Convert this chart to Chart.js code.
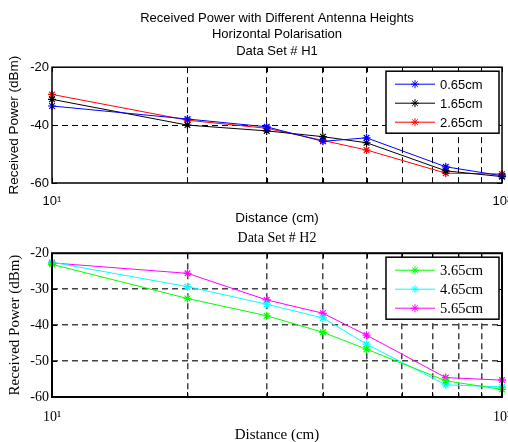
<!DOCTYPE html>
<html>
<head>
<meta charset="utf-8">
<script src="https://cdn.jsdelivr.net/npm/chart.js@4.4.1/dist/chart.umd.min.js"></script>
<style>
  html, body { margin: 0; padding: 0; background: #fff; }
  #wrap { position: relative; width: 508px; height: 442px; }
  #wrap canvas { position: absolute; left: 0; top: 0; }
</style>
</head>
<body>
<div id="wrap">
  <canvas id="h1" width="508" height="442"></canvas>
  <canvas id="h2" width="508" height="442"></canvas>
</div>
<script>
// distances (cm), log axis
var distance = [10, 20, 30, 40, 50, 75, 100];
var xTicks = [10, 20, 30, 40, 50, 60, 70, 80, 90, 100];

// data set H1
var h1Labels = ["0.65cm", "1.65cm", "2.65cm"];
var h1_065 = [-33.4, -37.9, -40.6, -45.6, -44.4, -54.4, -57.5];
var h1_165 = [-31.1, -40.0, -42.0, -44.0, -46.1, -55.8, -57.8];
var h1_265 = [-29.4, -38.3, -41.1, -45.3, -48.6, -56.6, -56.9];
var h1YTicks = [-60, -40, -20];

// data set H2
var h2Labels = ["3.65cm", "4.65cm", "5.65cm"];
var h2_365 = [-23.1, -32.6, -37.4, -42.0, -46.7, -55.5, -57.9];
var h2_465 = [-22.5, -29.3, -34.2, -38.0, -45.3, -56.6, -57.2];
var h2_565 = [-22.7, -25.6, -33.0, -36.7, -42.8, -54.6, -55.3];
var h2YTicks = [-60, -50, -40, -30, -20];

function xy(vals) {
  return vals.map(function (v, i) { return { x: distance[i], y: v }; });
}

function series(label, vals, color) {
  return {
    label: label,
    data: xy(vals),
    borderColor: color,
    backgroundColor: color,
    borderWidth: 1,
    pointStyle: "star",
    pointRadius: 4,
    pointBorderWidth: 1.2,
    pointBorderColor: color,
    tension: 0,
    clip: false
  };
}

// box, inward ticks and a legend in the MATLAB way
var matlabBox = {
  id: "matlabBox",
  afterDraw: function (chart, args, opts) {
    var ctx = chart.ctx, a = chart.chartArea;
    var xs = chart.scales.x, ys = chart.scales.y;
    ctx.save();
    ctx.strokeStyle = "#000";
    ctx.lineWidth = opts.boxWidth;
    ctx.strokeRect(a.left, a.top, a.right - a.left, a.bottom - a.top);
    ctx.lineWidth = 1;
    ctx.beginPath();
    xTicks.forEach(function (t) {
      var px = Math.round(xs.getPixelForValue(t)) + 0.5;
      ctx.moveTo(px, a.bottom); ctx.lineTo(px, a.bottom - 5);
      ctx.moveTo(px, a.top); ctx.lineTo(px, a.top + 5);
    });
    opts.yTicks.forEach(function (t) {
      var py = Math.round(ys.getPixelForValue(t)) + 0.5;
      ctx.moveTo(a.left, py); ctx.lineTo(a.left + 5, py);
      ctx.moveTo(a.right, py); ctx.lineTo(a.right - 5, py);
    });
    ctx.stroke();

    // legend
    var sets = chart.data.datasets;
    var bx = a.right - 116, by = a.top + 4, bw = 113, bh = 62;
    ctx.fillStyle = "#fff";
    ctx.fillRect(bx, by, bw, bh);
    ctx.lineWidth = 1.5;
    ctx.strokeRect(bx, by, bw, bh);
    ctx.font = opts.legendFont;
    ctx.textBaseline = "middle";
    sets.forEach(function (ds, i) {
      var ry = by + 13 + i * 19;
      ctx.strokeStyle = ds.borderColor;
      ctx.lineWidth = 1;
      ctx.beginPath();
      ctx.moveTo(bx + 9, ry); ctx.lineTo(bx + 49, ry);
      ctx.stroke();
      Chart.helpers.drawPoint(ctx, { pointStyle: "star", radius: 4, borderWidth: 1.2 }, bx + 29, ry);
      ctx.fillStyle = "#000";
      ctx.fillText(ds.label, bx + 54, ry + 1);
    });
    ctx.restore();
  }
};

function makeChart(id, cfg) {
  var f = cfg.family;
  var gridColor = function (c) {
    return (c.tick && (c.tick.value === cfg.yMin || c.tick.value === cfg.yMax)) ? "rgba(0,0,0,0)" : cfg.gridColor;
  };
  var xGridColor = function (c) {
    return (c.tick && (c.tick.value === 10 || c.tick.value === 100)) ? "rgba(0,0,0,0)" : cfg.gridColor;
  };
  return new Chart(document.getElementById(id), {
    type: "line",
    data: { datasets: cfg.datasets },
    plugins: [matlabBox],
    options: {
      responsive: false,
      animation: false,
      layout: { padding: { top: cfg.padTop, bottom: cfg.padBottom, left: 0, right: 6 } },
      plugins: {
        legend: { display: false },
        tooltip: { enabled: false },
        title: {
          display: true,
          text: cfg.title,
          fullSize: false,
          color: "#000",
          font: { family: f, size: cfg.titleSize, weight: "normal", lineHeight: 1.3 },
          padding: cfg.titlePad
        },
        matlabBox: { yTicks: cfg.yTicks, boxWidth: cfg.boxWidth, legendFont: cfg.legendFont }
      },
      scales: {
        x: {
          type: "logarithmic",
          min: 10,
          max: 100,
          afterBuildTicks: function (s) { s.ticks = xTicks.map(function (v) { return { value: v }; }); },
          afterFit: function (s) { s.height = cfg.xAxisH; s.paddingLeft = 0; s.paddingRight = 0; },
          border: { display: false, dash: [6, 4] },
          grid: { color: xGridColor, lineWidth: cfg.gridWidth, drawTicks: false },
          ticks: {
            autoSkip: false,
            maxRotation: 0,
            padding: cfg.xTickPad,
            color: "#000",
            font: { family: f, size: cfg.tickSize },
            callback: function (v) { return v === 10 ? "10\u00b9" : (v === 100 ? "10\u00b2" : ""); }
          },
          title: {
            display: true,
            text: "Distance (cm)",
            color: "#000",
            font: { family: f, size: cfg.axisTitleSize },
            padding: { top: 0, bottom: cfg.xTitlePadBottom }
          }
        },
        y: {
          min: cfg.yMin,
          max: cfg.yMax,
          afterBuildTicks: function (s) { s.ticks = cfg.yTicks.map(function (v) { return { value: v }; }); },
          afterFit: function (s) { s.width = 52; s.paddingTop = 0; s.paddingBottom = 0; },
          border: { display: false, dash: [6, 4] },
          grid: { color: gridColor, lineWidth: cfg.gridWidth, drawTicks: false },
          ticks: {
            padding: 3,
            color: "#000",
            font: { family: f, size: cfg.tickSize }
          },
          title: {
            display: true,
            text: "Received Power (dBm)",
            color: "#000",
            font: { family: f, size: cfg.axisTitleSize },
            padding: { top: 6, bottom: 0 }
          }
        }
      }
    }
  });
}

makeChart("h1", {
  family: "Arial, 'Liberation Sans', sans-serif",
  title: ["Received Power with Different Antenna Heights", "Horizontal Polarisation", "Data Set # H1"],
  titleSize: 13,
  titlePad: { top: 9.5, bottom: 7 },
  padTop: 0,
  padBottom: 217,
  xAxisH: 42,
  xTickPad: 11,
  xTitlePadBottom: -1,
  tickSize: 13,
  axisTitleSize: 13.5,
  legendFont: "13px Arial, 'Liberation Sans', sans-serif",
  gridColor: "#000",
  gridWidth: 1,
  boxWidth: 1.5,
  yMin: -60, yMax: -20,
  yTicks: h1YTicks,
  datasets: [
    series(h1Labels[0], h1_065, "#0000ff"),
    series(h1Labels[1], h1_165, "#000000"),
    series(h1Labels[2], h1_265, "#ff0000")
  ]
});

makeChart("h2", {
  family: "'Times New Roman', 'Liberation Serif', serif",
  title: ["Data Set # H2"],
  titleSize: 14,
  titlePad: { top: 9, bottom: 6 },
  padTop: 220,
  padBottom: 0,
  xAxisH: 45,
  xTickPad: 12,
  xTitlePadBottom: -2,
  tickSize: 14,
  axisTitleSize: 15,
  legendFont: "14.5px 'Times New Roman', 'Liberation Serif', serif",
  gridColor: "#444",
  gridWidth: 1.5,
  boxWidth: 2,
  yMin: -60, yMax: -20,
  yTicks: h2YTicks,
  datasets: [
    series(h2Labels[0], h2_365, "#00ff00"),
    series(h2Labels[1], h2_465, "#00ffff"),
    series(h2Labels[2], h2_565, "#ff00ff")
  ]
});
</script>
</body>
</html>
